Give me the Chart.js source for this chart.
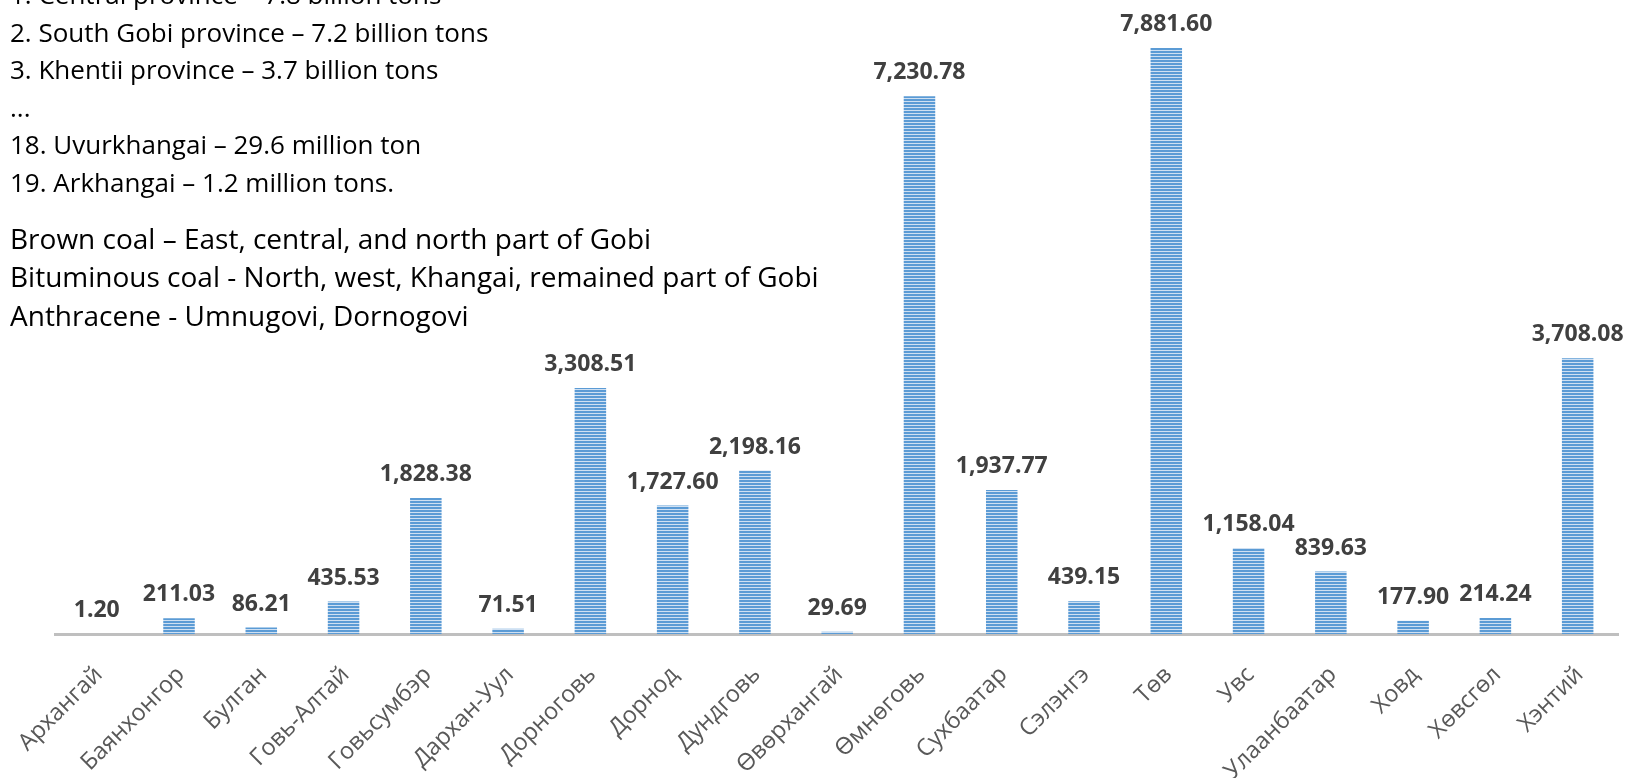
<!DOCTYPE html>
<html>
<head>
<meta charset="utf-8">
<script src="https://cdn.jsdelivr.net/npm/chart.js@4"></script>
<style>
  body { margin: 0; background: #fff; }
  #wrap { position: relative; width: 1639px; height: 778px; overflow: hidden; }
  #notes {
    position: absolute; left: 10px; top: -24px;
    font-family: 'Open Sans', sans-serif;
    color: #000; white-space: nowrap;
  }
  #notes .b1 { font-size: 26px; line-height: 37.6px; }
  #notes .b2 { font-size: 28px; line-height: 38.5px; margin-top: 17px; }
</style>
</head>
<body>
<div id="wrap">
  <canvas id="coalChart" width="1639" height="778"></canvas>
  <div id="notes">
    <div class="b1">
      <div>1. Central province – 7.8 billion tons</div>
      <div>2. South Gobi province – 7.2 billion tons</div>
      <div>3. Khentii province – 3.7 billion tons</div>
      <div>...</div>
      <div>18. Uvurkhangai – 29.6 million ton</div>
      <div>19. Arkhangai – 1.2 million tons.</div>
    </div>
    <div class="b2">
      <div>Brown coal – East, central, and north part of Gobi</div>
      <div>Bituminous coal - North, west, Khangai, remained part of Gobi</div>
      <div>Anthracene - Umnugovi, Dornogovi</div>
    </div>
  </div>
</div>
<script>
// Aimags (provinces) and coal reserves, million tons
const provinces = [
  'Архангай', 'Баянхонгор', 'Булган', 'Говь-Алтай', 'Говьсумбэр', 'Дархан-Уул',
  'Дорноговь', 'Дорнод', 'Дундговь', 'Өвөрхангай', 'Өмнөговь', 'Сухбаатар',
  'Сэлэнгэ', 'Төв', 'Увс', 'Улаанбаатар', 'Ховд', 'Хөвсгөл', 'Хэнтий'
];
const reserves = [
  1.20, 211.03, 86.21, 435.53, 1828.38, 71.51,
  3308.51, 1727.60, 2198.16, 29.69, 7230.78, 1937.77,
  439.15, 7881.60, 1158.04, 839.63, 177.90, 214.24, 3708.08
];
const yMin = 0;
const yMax = 8500;

// striped fill like the excel bars
function makeStripes() {
  const c = document.createElement('canvas');
  c.width = 4;
  c.height = 3;
  const g = c.getContext('2d');
  g.fillStyle = '#5B9BD5';
  g.fillRect(0, 0, 4, 2);
  g.fillStyle = '#CFE0F2';
  g.fillRect(0, 2, 4, 1);
  return g.createPattern(c, 'repeat');
}

function fmt(v) {
  return v.toLocaleString('en-US', { minimumFractionDigits: 2, maximumFractionDigits: 2 });
}

// draw the value above each bar
const valueLabels = {
  id: 'valueLabels',
  afterDatasetsDraw(chart) {
    const ctx = chart.ctx;
    const meta = chart.getDatasetMeta(0);
    ctx.save();
    ctx.font = "bold 23px 'Open Sans'";
    ctx.fillStyle = '#404040';
    ctx.textAlign = 'center';
    ctx.textBaseline = 'alphabetic';
    meta.data.forEach((bar, i) => {
      ctx.fillText(fmt(reserves[i]), bar.x, bar.y - 17);
    });
    ctx.restore();
  }
};

Chart.defaults.font.family = "'Open Sans'";

const ctx = document.getElementById('coalChart').getContext('2d');
const coalChart = new Chart(ctx, {
  type: 'bar',
  data: {
    labels: provinces,
    datasets: [{
      data: reserves,
      backgroundColor: makeStripes(),
      borderWidth: 0,
      categoryPercentage: 1,
      barPercentage: 0.383
    }]
  },
  options: {
    responsive: false,
    animation: false,
    events: [],
    layout: {
      padding: { top: 2, left: 55.6, right: 20.2, bottom: 0 }
    },
    plugins: {
      legend: { display: false },
      tooltip: { enabled: false }
    },
    scales: {
      x: {
        grid: { display: false, drawTicks: false },
        border: { display: true, color: '#BFBFBF', width: 3 },
        ticks: {
          color: '#595959',
          font: { size: 23.5 },
          minRotation: 45,
          maxRotation: 45,
          autoSkip: false,
          padding: 27,
          labelOffset: 2
        },
        afterFit: function(scale) {
          // fixed axis height, and no extra room for the first rotated label
          scale.height = 144;
          scale.paddingLeft = 0;
          scale.paddingRight = 0;
        }
      },
      y: {
        display: false,
        min: yMin,
        max: yMax
      }
    }
  },
  plugins: [valueLabels]
});
</script>
</body>
</html>
